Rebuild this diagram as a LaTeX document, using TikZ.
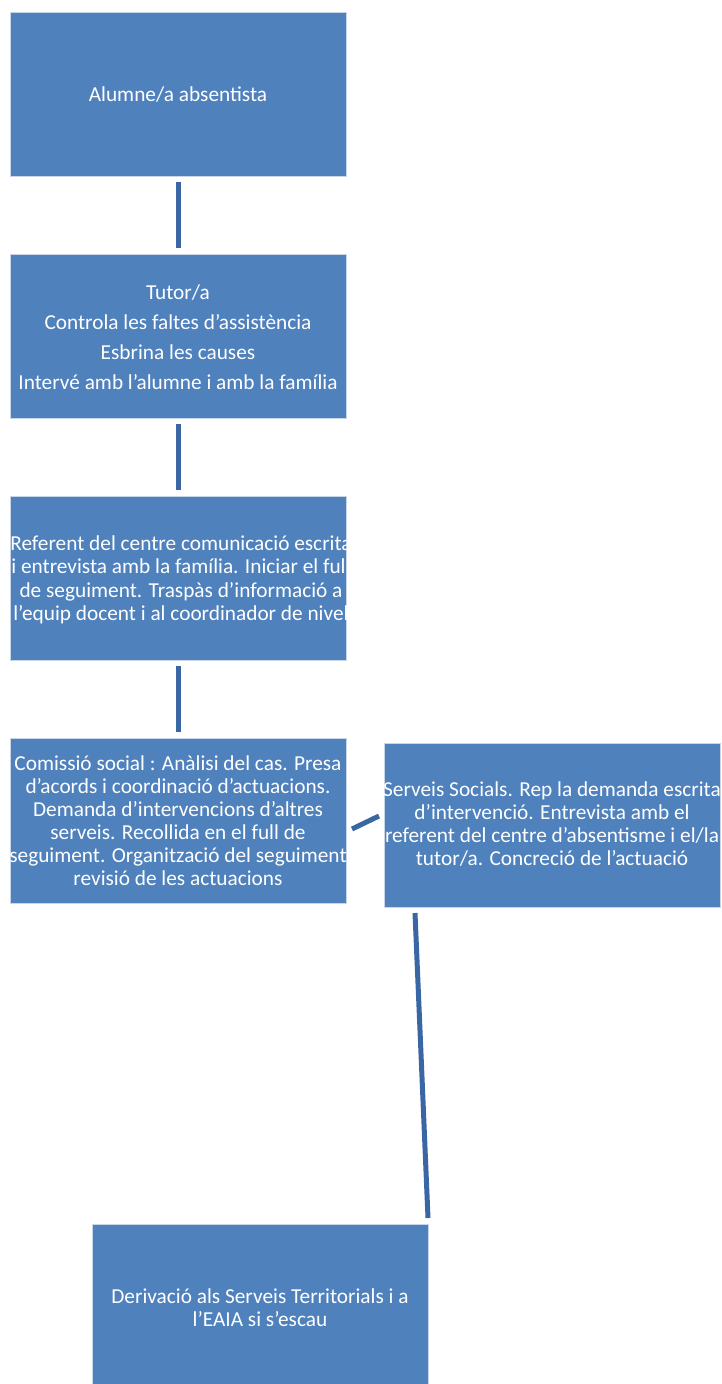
\documentclass[tikz,border=0pt]{standalone}
\usepackage{fontspec}
\setmainfont{Carlito}
\definecolor{boxfill}{HTML}{4F81BD}
\definecolor{boxline}{HTML}{C9D6E8}
\definecolor{connline}{HTML}{3A67A3}
\begin{document}
\begin{tikzpicture}[x=1pt,y=-1pt,
  box/.style={fill=boxfill, draw=boxline, line width=0.6pt, text=white},
  conn/.style={draw=connline, line width=5pt},
  lbl/.style={text=white, align=center, inner sep=0pt}]
\useasboundingbox (0,0) rectangle (721,1384);
\begin{scope}
\clip (0,0) rectangle (721,1384);
% boxes
\path[box] (10,12) rectangle (346,176);
\path[box] (10,254) rectangle (346,418);
\path[box] (10,496) rectangle (346,660);
\path[box] (10,738) rectangle (346,903);
\path[box] (384,743) rectangle (720,907);
\path[box] (92,1224) rectangle (428,1392);
\end{scope}
% labels
\node[lbl, font=\fontsize{21.3}{23}\selectfont] (b1) at (178,95) {Alumne/a absentista};
\node[lbl, font=\fontsize{21.3}{30}\selectfont] (b2) at (178,337) {Tutor/a\\Controla les faltes d’assistència\\Esbrina les causes\\Intervé amb l’alumne i amb la família};
\node[lbl, font=\fontsize{21.3}{23.5}\selectfont] (b3) at (181,580) {Referent del centre comunicació escrita\\i entrevista amb la família. Iniciar el full\\de seguiment. Traspàs d’informació a\\l’equip docent i al coordinador de nivel};
\node[lbl, font=\fontsize{21.3}{23}\selectfont] (b4) at (178,821) {Comissió social : Anàlisi del cas. Presa\\d’acords i coordinació d’actuacions.\\Demanda d’intervencions d’altres\\serveis. Recollida en el full de\\seguiment. Organització del seguiment\\revisió de les actuacions};
\node[lbl, font=\fontsize{21.3}{23}\selectfont] (b5) at (552,824) {Serveis Socials. Rep la demanda escrita\\d’intervenció. Entrevista amb el\\referent del centre d’absentisme i el/la\\tutor/a. Concreció de l’actuació};
\node[lbl, font=\fontsize{21.3}{23}\selectfont] (b6) at (260,1308) {Derivació als Serveis Territorials i a\\l’EAIA si s’escau};
% connector end points
\coordinate (c12a) at (178.5,182);
\coordinate (c12b) at (178.5,248);
\coordinate (c23a) at (178.5,424);
\coordinate (c23b) at (178.5,490);
\coordinate (c34a) at (178.5,666);
\coordinate (c34b) at (178.5,732);
\coordinate (c45a) at (352,829);
\coordinate (c45b) at (379,816);
\coordinate (c56a) at (415,913);
\coordinate (c56b) at (428,1218);
\draw[conn] (c12a) -- (c12b);
\draw[conn] (c23a) -- (c23b);
\draw[conn] (c34a) -- (c34b);
\draw[conn] (c45a) -- (c45b);
\draw[conn] (c56a) -- (c56b);
\end{tikzpicture}
\end{document}
